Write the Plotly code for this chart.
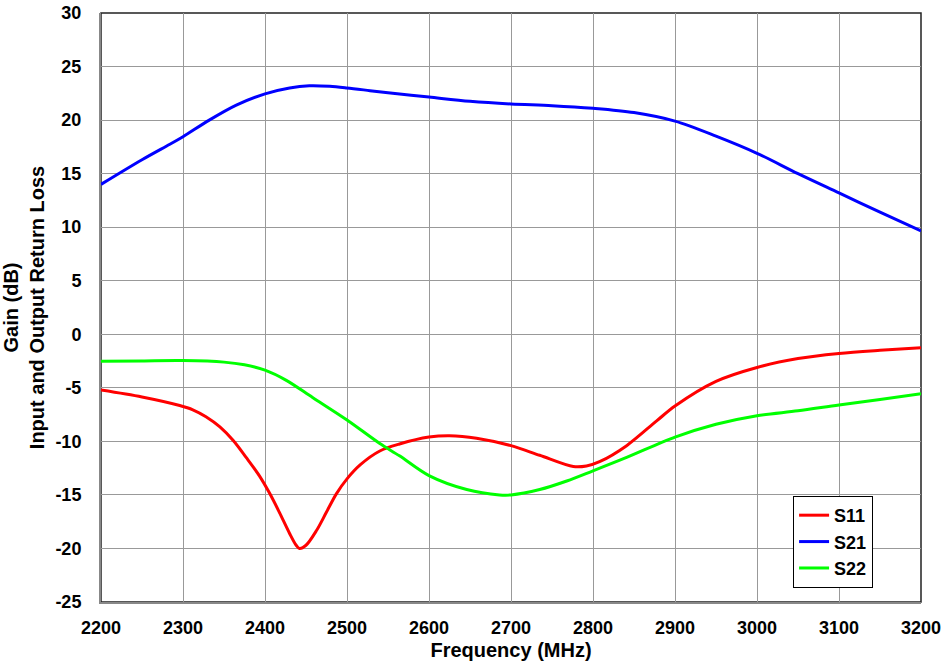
import plotly.graph_objects as go

freq_s21 = [2200, 2250, 2284, 2300, 2332, 2365, 2400, 2430, 2454, 2479, 2500, 2528, 2550,
            2600, 2650, 2700, 2750, 2800, 2850, 2900, 2950, 3000, 3050, 3100, 3150, 3200]
s21 = [14.0, 16.3, 17.75, 18.45, 20.0, 21.4, 22.45, 23.0, 23.2, 23.15, 23.0, 22.75, 22.55,
       22.15, 21.75, 21.5, 21.35, 21.1, 20.7, 19.9, 18.5, 16.9, 15.0, 13.2, 11.4, 9.65]

freq_s11 = [2200, 2250, 2296, 2312, 2328, 2345, 2361, 2377, 2393, 2406, 2418, 2430, 2438,
            2442, 2450, 2463, 2475, 2487, 2500, 2516, 2540, 2564, 2600, 2625, 2658, 2700,
            2735, 2776, 2792, 2808, 2841, 2878, 2900, 2950, 3000, 3050, 3100, 3150, 3200]
s11 = [-5.2, -5.85, -6.65, -7.05, -7.7, -8.65, -9.9, -11.5, -13.2, -14.9, -16.7, -18.6, -19.7,
       -20.0, -19.7, -18.3, -16.6, -14.9, -13.5, -12.2, -10.9, -10.25, -9.6, -9.47, -9.7, -10.4,
       -11.3, -12.35, -12.3, -11.9, -10.4, -8.06, -6.7, -4.4, -3.1, -2.27, -1.8, -1.5, -1.25]

freq_s22 = [2200, 2250, 2300, 2350, 2375, 2400, 2426, 2458, 2500, 2540, 2564, 2600, 2646,
            2686, 2700, 2735, 2768, 2800, 2841, 2900, 2950, 3000, 3050, 3100, 3150, 3200]
s22 = [-2.52, -2.49, -2.46, -2.6, -2.85, -3.35, -4.3, -5.9, -8.0, -10.2, -11.35, -13.2, -14.5,
       -15.0, -15.0, -14.5, -13.7, -12.75, -11.5, -9.6, -8.4, -7.6, -7.15, -6.6, -6.1, -5.55]

x_ticks = [2200, 2300, 2400, 2500, 2600, 2700, 2800, 2900, 3000, 3100, 3200]
y_ticks = [-25, -20, -15, -10, -5, 0, 5, 10, 15, 20, 25, 30]

FONT = "Arial, 'Liberation Sans', sans-serif"

fig = go.Figure()
for name, xs, ys, col in [("S11", freq_s11, s11, "#ff0000"),
                          ("S21", freq_s21, s21, "#0000ff"),
                          ("S22", freq_s22, s22, "#00ff00")]:
    fig.add_trace(go.Scatter(x=xs, y=ys, name=name, mode="lines",
                             line=dict(color=col, width=3, shape="spline", smoothing=0.9)))

axis_common = dict(showgrid=True, gridcolor="#999999", gridwidth=1,
                   showline=True, linecolor="#888888", linewidth=2,
                   zeroline=False, ticks="", automargin=False,
                   tickfont=dict(family=FONT, size=18, color="black", weight="bold"))

fig.update_xaxes(range=[2200, 3200], tickvals=x_ticks,
                 ticktext=[str(v) for v in x_ticks],
                 title=dict(text="<b>Frequency (MHz)</b>", standoff=6,
                            font=dict(family=FONT, size=20, color="black")),
                 ticklabelstandoff=8, **axis_common)
fig.update_yaxes(range=[-25, 30], tickvals=y_ticks,
                 ticktext=[str(v) for v in y_ticks],
                 title=dict(text="<b>Gain (dB)<br>Input and Output Return Loss</b>", standoff=8,
                            font=dict(family=FONT, size=20, color="black")),
                 ticklabelstandoff=14, **axis_common)

fig.add_shape(type="rect", xref="paper", yref="paper", x0=0, y0=0, x1=1, y1=1,
              line=dict(color="#222222", width=1.5), layer="below")

fig.update_layout(
    width=943, height=665,
    margin=dict(l=101, r=22, t=13, b=63),
    paper_bgcolor="white", plot_bgcolor="white",
    font=dict(family=FONT, color="black"),
    legend=dict(x=0.844, y=0.18, xanchor="left", yanchor="top",
                bgcolor="white", bordercolor="black", borderwidth=1,
                font=dict(family=FONT, size=18, color="black", weight="bold"),
                itemwidth=30, tracegroupgap=0),
    showlegend=True,
)

fig.write_html("out.html")
